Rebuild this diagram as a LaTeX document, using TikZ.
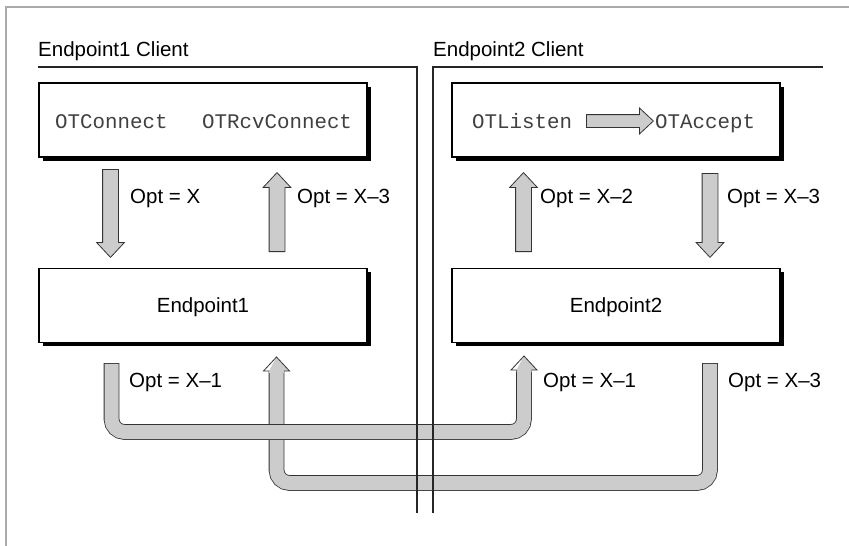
\documentclass[tikz,border=0pt]{standalone}
\usepackage{fontspec}
\setmainfont{Liberation Sans}
\setmonofont{Liberation Mono}
\usetikzlibrary{shapes.arrows,shadows}

\definecolor{pipegray}{RGB}{204,204,204}
\definecolor{framegray}{RGB}{170,170,170}

\tikzset{
  lbl/.style={font=\fontsize{20.5pt}{24pt}\selectfont, inner sep=0pt},
  call/.style={font=\ttfamily\fontsize{20.8pt}{24pt}\selectfont, text=black!75, inner sep=0pt},
  box/.style={draw, line width=1.2pt, fill=white, minimum width=328pt, minimum height=74pt,
    inner sep=0pt, text depth=0pt, font=\fontsize{20.5pt}{24pt}\selectfont,
    drop shadow={shadow xshift=3.5pt, shadow yshift=-3.5pt, fill=black, opacity=1}},
  fatarrow/.style={single arrow, draw=black!80, line width=0.8pt, fill=pipegray,
    inner sep=7.5pt, single arrow head extend=6pt, single arrow tip angle=86,
    minimum height=#1, anchor=tail},
  pipeout/.style={line width=15.6pt, draw=black!80, rounded corners=13pt},
  pipein/.style={line width=14pt, draw=pipegray, rounded corners=13pt, shorten <=0.8pt},
  wall/.style={line width=1.2pt, draw=black!85}
}

\newcommand{\pipe}[1]{\draw[pipeout] #1; \draw[pipein] #1;}
% head of a pipe, tip at the named coordinate
\newcommand{\pipehead}[1]{%
  \fill[pipegray] (#1) -- ++(13,14) -- ++(-5.5,0) -- ++(0,2) -- ++(-15,0) -- ++(0,-2) -- cycle;
  \draw[black!80, line width=0.8pt, line join=miter]
    (#1) ++(-7.4,14) -- ++(-5.6,0) -- (#1) -- ++(13,14) -- ++(-5.6,0);}

\begin{document}
\begin{tikzpicture}[x=1pt, y=-1pt]
  \useasboundingbox (0,0) rectangle (849,546);

  % Frame
  \draw[framegray, line width=1.5pt] (6,546) -- (6,7) -- (849,7);

  % Clients
  \node[lbl, anchor=base west] (client1) at (38,56) {Endpoint1 Client};
  \node[lbl, anchor=base west] (client2) at (433,56) {Endpoint2 Client};

  % Boxes
  \node[box] (calls1) at (203,120) {};
  \node[box] (calls2) at (616,120) {};
  \node[box] (ep1) at (203,305.5) {Endpoint1};
  \node[box] (ep2) at (616,305.5) {Endpoint2};

  % Calls
  \node[call, anchor=base west] (connect) at (55,128) {OTConnect};
  \node[call, anchor=base west] (rcvconnect) at (202,128) {OTRcvConnect};
  \node[call, anchor=base west] (listen) at (472,128) {OTListen};
  \node[call, anchor=base west] (accept) at (655,128) {OTAccept};
  \node[fatarrow=67pt, inner sep=6pt, single arrow head extend=6.5pt] (listentoaccept) at (586,121) {};

  % Arrows between calls and endpoints
  \node[fatarrow=88pt, rotate=-90] (down1) at (110.5,169) {};
  \node[fatarrow=79pt, rotate=90] (up1) at (277,252) {};
  \node[fatarrow=79pt, rotate=90] (up2) at (523.5,252) {};
  \node[fatarrow=84pt, rotate=-90] (down2) at (710,173) {};

  \node[lbl, anchor=base west] (opt1) at (130,203) {Opt = X};
  \node[lbl, anchor=base west] (opt2) at (297,203) {Opt = X--3};
  \node[lbl, anchor=base west] (opt3) at (540,203) {Opt = X--2};
  \node[lbl, anchor=base west] (opt4) at (727,203) {Opt = X--3};

  % Pipes between endpoints
  \coordinate (outB) at (710,363);
  \coordinate (inB) at (276.5,371);
  \coordinate (headB) at (276.5,357);
  \pipe{(outB) -- ++(0,120) -| (inB)}
  \pipehead{headB}

  \coordinate (outA) at (111.5,363);
  \coordinate (inA) at (524,370);
  \coordinate (headA) at (524,356);
  \pipe{(outA) -- ++(0,69) -| (inA)}
  \pipehead{headA}

  \node[lbl, anchor=base west] (opt5) at (129,387) {Opt = X--1};
  \node[lbl, anchor=base west] (opt6) at (543,387) {Opt = X--1};
  \node[lbl, anchor=base west] (opt7) at (728,387) {Opt = X--3};

  % Walls
  \draw[wall] (38,67) -- (417,67) -- (417,513);
  \draw[wall] (433,513) -- (433,67) -- (823,67);
\end{tikzpicture}
\end{document}
